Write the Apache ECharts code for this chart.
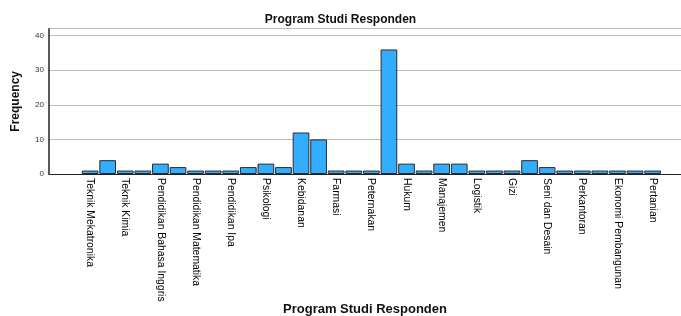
<!DOCTYPE html>
<html>
<head>
<meta charset="utf-8">
<script src="https://cdn.jsdelivr.net/npm/echarts@6/dist/echarts.min.js"></script>
<style>
  html,body{margin:0;padding:0;background:#fff;}
  #main{width:681px;height:316px;}
</style>
</head>
<body>
<div id="main"></div>
<script>
// program studi (only every other label is printed in the source chart)
var programNames = [
  'Teknik Mekatronika', '', 'Teknik Kimia', '', 'Pendidikan Bahasa Inggris', '',
  'Pendidikan Matematika', '', 'Pendidikan Ipa', '', 'Psikologi', '',
  'Kebidanan', '', 'Farmasi', '', 'Peternakan', '', 'Hukum', '',
  'Manajemen', '', 'Logistik', '', 'Gizi', '', 'Seni dan Desain', '',
  'Perkantoran', '', 'Ekonomi Pembangunan', '', 'Pertanian'
];
var frequency = [
  1, 4, 1, 1, 3, 2, 1, 1, 1, 2, 3, 2, 12, 10, 1, 1, 1, 36, 3, 1,
  3, 3, 1, 1, 1, 4, 2, 1, 1, 1, 1, 1, 1
];
var yTicks = [0, 10, 20, 30, 40];

var myChart = echarts.init(document.getElementById('main'));
myChart.setOption({
  animation: false,
  backgroundColor: '#fff',
  title: {
    text: 'Program Studi Responden',
    left: 'center',
    top: 9,
    textStyle: { fontFamily: 'Liberation Sans', fontSize: 12, fontWeight: 'bold', color: '#111' }
  },
  grid: [
    // frame: y axis, gridlines, x axis line
    { left: 49, right: 0, top: 28.7, bottom: 142, outerBoundsMode: 'none' },
    // bars
    { left: 81.3, right: 19.6, top: 28.7, bottom: 142, outerBoundsMode: 'none' }
  ],
  xAxis: [
    {
      gridIndex: 0,
      type: 'category',
      data: [''],
      name: 'Program Studi Responden',
      nameLocation: 'middle',
      nameGap: 129,
      nameTextStyle: { fontFamily: 'Liberation Sans', fontSize: 13, fontWeight: 'bold', color: '#111' },
      axisLine: { show: true, lineStyle: { color: '#222', width: 1.2 } },
      axisTick: { show: false },
      axisLabel: { show: false }
    },
    {
      gridIndex: 1,
      type: 'category',
      data: programNames,
      axisLine: { show: false },
      axisTick: { show: false },
      axisLabel: {
        interval: 1,
        rotate: -90,
        margin: 4,
        fontFamily: 'Liberation Sans',
        fontSize: 10.4,
        color: '#000'
      }
    }
  ],
  yAxis: [
    {
      gridIndex: 0,
      type: 'value',
      min: 0,
      max: 42,
      interval: 10,
      name: 'Frequency',
      nameLocation: 'middle',
      nameRotate: 90,
      nameGap: 27,
      nameTextStyle: { fontFamily: 'Liberation Sans', fontSize: 12, fontWeight: 'bold', color: '#111' },
      axisLine: { show: true, lineStyle: { color: '#222', width: 1.5 } },
      axisTick: { show: false },
      axisLabel: {
        margin: 5,
        fontFamily: 'Liberation Sans',
        fontSize: 8,
        color: '#333',
        formatter: function (v) { return yTicks.indexOf(v) >= 0 ? String(v) : ''; }
      },
      splitLine: { show: true, lineStyle: { color: '#bdbdbd', width: 1 } }
    },
    {
      gridIndex: 1,
      type: 'value',
      min: 0,
      max: 42,
      interval: 10,
      show: false,
      splitLine: { show: false }
    }
  ],
  series: [{
    name: 'Frequency',
    type: 'bar',
    xAxisIndex: 1,
    yAxisIndex: 1,
    barCategoryGap: '5%',
    itemStyle: { color: '#33adff', borderColor: '#2b2b2b', borderWidth: 1 },
    data: frequency
  }]
});
</script>
</body>
</html>
